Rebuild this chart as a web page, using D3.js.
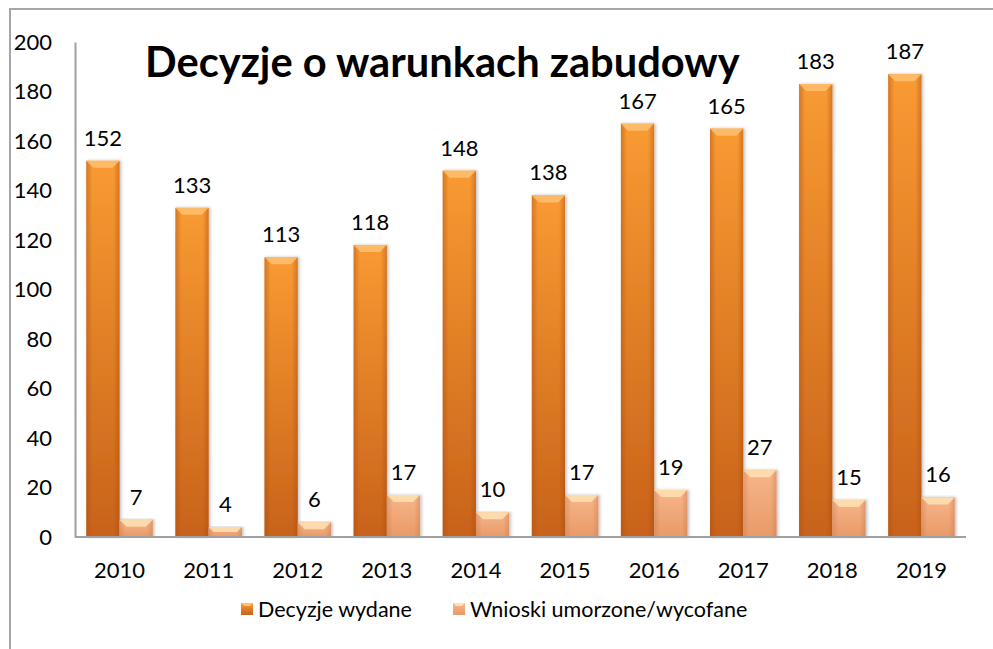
<!DOCTYPE html>
<html>
<head>
<meta charset="utf-8">
<script src="https://cdn.jsdelivr.net/npm/d3@7"></script>
<style>
  html, body { margin: 0; padding: 0; background: #fff; }
  svg { display: block; }
  text { font-family: Lato, "Open Sans", sans-serif; fill: #000; }
</style>
</head>
<body>
<div id="chart"></div>
<script>
const years = ["2010", "2011", "2012", "2013", "2014", "2015", "2016", "2017", "2018", "2019"];
const wydane = [152, 133, 113, 118, 148, 138, 167, 165, 183, 187];
const umorzone = [7, 4, 6, 17, 10, 17, 19, 27, 15, 16];
const seriesNames = ["Decyzje wydane", "Wnioski umorzone/wycofane"];
const yTicks = [0, 20, 40, 60, 80, 100, 120, 140, 160, 180, 200];
const title = "Decyzje o warunkach zabudowy";

const width = 993, height = 649;
const fs = '22px';
const svg = d3.select('#chart').append('svg')
  .attr('width', width)
  .attr('height', height);

// gradients for the two series
const defs = svg.append('defs');
const grads = [
  { id: 'g0', top: '#f99a32', bot: '#c8621a', bevel: '#ffc070', edge: '#a84c10' },
  { id: 'g1', top: '#f7b58a', bot: '#e99a68', bevel: '#fee2b4', edge: '#c87a50' }
];
grads.forEach(g => {
  const lg = defs.append('linearGradient').attr('id', g.id)
    .attr('x1', 0).attr('y1', 0).attr('x2', 0).attr('y2', 1);
  lg.append('stop').attr('offset', '0%').attr('stop-color', g.top);
  lg.append('stop').attr('offset', '100%').attr('stop-color', g.bot);
  const hg = defs.append('linearGradient').attr('id', g.id + 'h')
    .attr('x1', 0).attr('y1', 0).attr('x2', 1).attr('y2', 0);
  hg.append('stop').attr('offset', '0%').attr('stop-color', g.edge).attr('stop-opacity', 0.45);
  hg.append('stop').attr('offset', '18%').attr('stop-color', g.edge).attr('stop-opacity', 0);
  hg.append('stop').attr('offset', '82%').attr('stop-color', g.edge).attr('stop-opacity', 0);
  hg.append('stop').attr('offset', '100%').attr('stop-color', g.edge).attr('stop-opacity', 0.45);
});
const shadow = defs.append('filter').attr('id', 'sh')
  .attr('x', '-20%').attr('y', '-5%').attr('width', '140%').attr('height', '110%');
shadow.append('feDropShadow').attr('dx', 1.5).attr('dy', 0).attr('stdDeviation', 1.5)
  .attr('flood-color', '#000').attr('flood-opacity', 0.25);

// outer frame
svg.append('rect')
  .attr('x', 10).attr('y', 9)
  .attr('width', width + 20).attr('height', height + 20)
  .attr('fill', 'none').attr('stroke', '#a6a6a6').attr('stroke-width', 2);

const x0 = d3.scaleBand().domain(years).range([75, 966]).padding(0);
const x1 = d3.scaleBand().domain([0, 1]).range([0, x0.bandwidth()])
  .paddingInner(0).paddingOuter(0.34);
const y = d3.scaleLinear().domain([0, 200]).range([537, 42]);

// y axis
const yAxis = svg.append('g').attr('transform', 'translate(75,0)')
  .call(d3.axisLeft(y).tickValues(yTicks).tickSize(0).tickPadding(23));
yAxis.select('.domain').attr('stroke', '#a0a0a0').attr('stroke-width', 2);
yAxis.selectAll('text').style('font-size', fs).attr('font-family', 'Lato');

// bars
const data = years.map((yr, i) => ({ yr, vals: [wydane[i], umorzone[i]] }));
const groups = svg.append('g').selectAll('g').data(data).join('g')
  .attr('transform', d => `translate(${x0(d.yr)},0)`);

const bw = x1.bandwidth();
const bevel = 7;
groups.each(function (d) {
  const g = d3.select(this);
  d.vals.forEach((v, s) => {
    const bx = x1(s), by = y(v), bh = y(0) - y(v);
    const bar = g.append('g').attr('filter', 'url(#sh)');
    bar.append('rect').attr('x', bx).attr('y', by).attr('width', bw).attr('height', bh)
      .attr('fill', `url(#g${s})`);
    bar.append('rect').attr('x', bx).attr('y', by).attr('width', bw).attr('height', bh)
      .attr('fill', `url(#g${s}h)`);
    const bv = Math.min(bevel, bh / 2);
    bar.append('path')
      .attr('d', `M${bx},${by}L${bx + bw},${by}L${bx + bw - bv},${by + bv}L${bx + bv},${by + bv}Z`)
      .attr('fill', grads[s].bevel).attr('opacity', 0.85);
    g.append('text')
      .attr('x', bx + bw / 2).attr('y', by - 15)
      .attr('text-anchor', 'middle')
      .style('font-size', fs)
      .text(v);
  });
});

// baseline
svg.append('line')
  .attr('x1', 75).attr('x2', 966).attr('y1', y(0)).attr('y2', y(0))
  .attr('stroke', '#a0a0a0').attr('stroke-width', 2);

// year labels
svg.append('g').selectAll('text').data(years).join('text')
  .attr('x', d => x0(d) + x0.bandwidth() / 2)
  .attr('y', 578)
  .attr('text-anchor', 'middle')
  .style('font-size', fs)
  .text(d => d);

// title, sized to span the same width as the original
const t = svg.append('text')
  .attr('x', 145).attr('y', 77)
  .style('font-weight', 'bold')
  .style('font-size', '40px')
  .text(title);
const tw = t.node().getComputedTextLength();
t.style('font-size', (40 * 595 / tw) + 'px');

// legend
const legX = [241, 453];
const leg = svg.append('g').selectAll('g').data(seriesNames).join('g')
  .attr('transform', (d, i) => `translate(${legX[i]},603)`);
leg.append('rect').attr('width', 12).attr('height', 12).attr('fill', (d, i) => `url(#g${i})`);
leg.append('path').attr('d', 'M0,0L12,0L9,3L3,3Z').attr('fill', (d, i) => grads[i].bevel);
leg.append('text').attr('x', 17).attr('y', 14)
  .style('font-size', '21.5px')
  .text(d => d);
</script>
</body>
</html>
